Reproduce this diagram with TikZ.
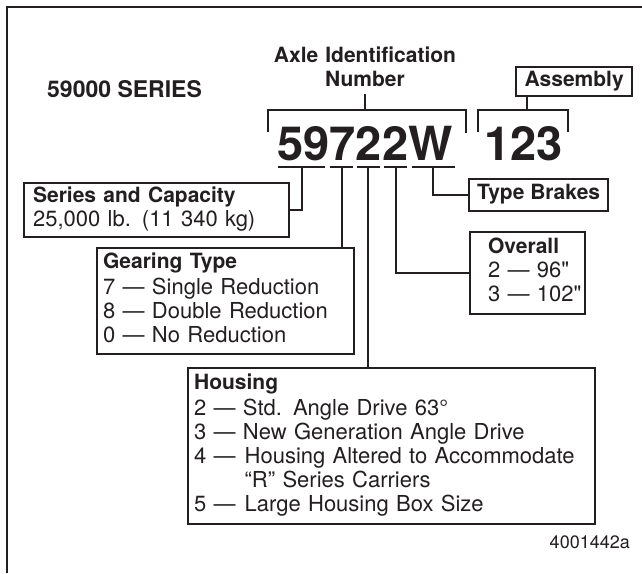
\documentclass[tikz,border=0pt]{standalone}
\usepackage{fontspec}
\setmainfont{TeX Gyre Heros}
\definecolor{ink}{RGB}{35,31,32}
\newcommand{\boxhead}[1]{{\fontsize{21}{24}\selectfont\bfseries #1}}

\begin{document}
\begin{tikzpicture}[x=1pt, y=-1pt,
    every node/.style={text=ink, inner sep=0pt},
    wire/.style={draw=ink, line width=2.2pt},
    rule/.style={draw=ink, line width=2.6pt},
    frame/.style={draw=ink, line width=2.6pt},
    infobox/.style={draw=ink, line width=2.2pt, anchor=north west, align=left,
        font=\fontsize{22}{24}\selectfont,
        execute at begin node=\strut, execute at end node=\strut},
    tagbox/.style={draw=ink, line width=2.2pt, anchor=north west,
        font=\fontsize{21}{24}\selectfont\bfseries,
        text height=16.8pt, text depth=7.2pt}]

\useasboundingbox (0,0) rectangle (642,573);

% ===================== FRAME =====================
\draw[frame] (7,573) -- (7,7) -- (642,7);

% ===================== TOP: TITLES AND NUMBER =====================
\node[font=\fontsize{23}{26}\selectfont\bfseries, anchor=base west] (title) at (47,97) {59000 SERIES};

\node[font=\fontsize{21}{24}\selectfont\bfseries, align=center, text width=200pt,
      anchor=south, execute at end node=\strut] (axle) at (365,94)
    {Axle Identification\\Number};

\node[tagbox, minimum width=116pt, minimum height=29pt] (assy) at (515,66) {Assembly};

% Big number
\node[font=\fontsize{47}{50}\selectfont\bfseries, anchor=base] (axleno) at (365,160) {59722W};
\node[font=\fontsize{47}{50}\selectfont\bfseries, anchor=base] (assyno) at (523.5,160) {123};

% Brackets over the number
\draw[wire] (268,132) -- (268,110) -- (466,110) -- (466,133);
\draw[wire] (478,132) -- (478,110) -- (568,110) -- (568,132);
\coordinate (axletop) at (365,110);
\coordinate (assytop) at (527,110);
\draw[wire] (axle.south) -- (axletop);
\draw[wire] (assytop |- assy.south) -- (assytop);

% Underlines below the digits
\draw[rule] (278,167) -- (325,167);
\draw[rule] (330,167) -- (353,167);
\draw[rule] (357,167) -- (380,167);
\draw[rule] (384,167) -- (407,167);
\draw[rule] (412,167) -- (455,167);
\coordinate (u59) at (302,167);
\coordinate (u7)  at (342,167);
\coordinate (u2a) at (368,167);
\coordinate (u2b) at (396,167);
\coordinate (uW)  at (433,167);

% ===================== BOXES =====================
\node[infobox, inner xsep=9pt, text width=247pt, minimum height=54pt] (series) at (23,182)
    {\boxhead{Series and Capacity}\\
     25,000 lb. (11 340 kg)};

\node[infobox, inner xsep=6pt, text width=245pt, minimum height=106pt] (gear) at (96,247)
    {\boxhead{Gearing Type}\\[2pt]
     7 — Single Reduction\\
     8 — Double Reduction\\
     0 — No Reduction};

\node[infobox, inner xsep=6pt, text width=395pt, minimum height=156pt] (house) at (187,367)
    {\boxhead{Housing}\\[2pt]
     2 — Std. Angle Drive 63°\\
     3 — New Generation Angle Drive\\
     4 —\hspace{9pt}Housing Altered to Accommodate\\
     \leavevmode\phantom{4 —}\hspace{9pt}“R” Series Carriers\\
     5 —\hspace{9pt}Large Housing Box Size};

\node[infobox, inner xsep=18pt, text width=79pt, minimum height=82pt] (overall) at (469,231)
    {\boxhead{Overall}\\
     \mbox{2 — 96\textquotedbl}\\
     \mbox{3 — 102\textquotedbl}};

\node[tagbox, minimum width=139pt, minimum height=32pt] (brakes) at (468,178) {Type Brakes};

% ===================== CONNECTORS =====================
\draw[wire] (u59) |- (series.east);
\draw[wire] (u7) -- (u7 |- gear.north);
\draw[wire] (u2a) -- (u2a |- house.north);
\draw[wire] (u2b) |- (overall.west);
\draw[wire] (uW) |- (brakes.west);

% Figure number
\node[font=\fontsize{18}{20}\selectfont, anchor=base east] (figno) at (630,548) {4001442a};

\end{tikzpicture}
\end{document}
